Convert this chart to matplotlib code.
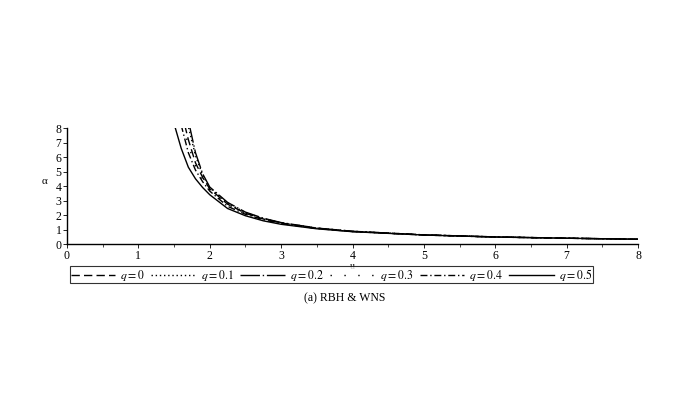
import numpy as np
import matplotlib.pyplot as plt

plt.rcParams['font.family'] = ['Liberation Serif', 'DejaVu Serif']
plt.rcParams['mathtext.fontset'] = 'stix'

# values
u_tail = [2.0, 2.25, 2.5, 2.75, 3.0, 3.5, 4.0, 5.0, 6.0, 7.0, 8.0]

u_q0 = [1.65, 1.7, 1.8, 1.9] + u_tail
a_q0 = [8.2, 7.2, 5.6, 4.6, 3.8, 2.75, 2.12, 1.73, 1.45, 1.09, 0.87, 0.63, 0.49, 0.40, 0.33]

u_q1 = [1.69, 1.7, 1.8, 1.9] + u_tail
a_q1 = [8.3, 8.1, 6.1, 4.75, 3.88, 2.82, 2.17, 1.76, 1.47, 1.1, 0.88, 0.63, 0.49, 0.40, 0.33]

u_q2 = [1.71, 1.8, 1.9] + u_tail
a_q2 = [8.3, 6.3, 4.85, 3.93, 2.87, 2.2, 1.78, 1.48, 1.1, 0.88, 0.63, 0.49, 0.40, 0.33]

u_q3 = [1.63, 1.7, 1.8, 1.9] + u_tail
a_q3 = [8.2, 6.8, 5.4, 4.45, 3.72, 2.68, 2.09, 1.7, 1.43, 1.08, 0.86, 0.62, 0.48, 0.40, 0.33]

u_q4 = [1.6, 1.7, 1.8, 1.9] + u_tail
a_q4 = [8.2, 6.3, 5.1, 4.3, 3.65, 2.6, 2.05, 1.68, 1.41, 1.07, 0.86, 0.62, 0.48, 0.40, 0.33]

u_q5 = [1.5, 1.6, 1.7, 1.8, 1.9] + u_tail
a_q5 = [8.3, 6.6, 5.3, 4.5, 3.9, 3.4, 2.45, 1.95, 1.6, 1.36, 1.05, 0.85, 0.62, 0.48, 0.40, 0.33]

labels = ['$q = 0$', '$q = 0.1$', '$q = 0.2$', '$q = 0.3$', '$q = 0.4$', '$q = 0.5$']
styles = [(0, (6, 3)), (0, (1, 2)), (0, (14, 2, 1, 2)), (0, (1, 9)), (0, (5, 2, 1, 2)), '-']

fig = plt.figure(figsize=(6.92, 4.15), dpi=100)
ax = fig.add_axes([0.0968, 0.412, 0.8252, 0.2795])

series = [(u_q0, a_q0), (u_q1, a_q1), (u_q2, a_q2), (u_q3, a_q3), (u_q4, a_q4), (u_q5, a_q5)]
for (u, a), lab, ls in zip(series, labels, styles):
    ax.plot(u, a, color='black', linestyle=ls, linewidth=1.0, label=lab)

ax.set_xlim(0, 8)
ax.set_ylim(0, 8)
ax.set_xticks(range(0, 9))
ax.set_yticks(range(0, 9))
ax.set_xticks(np.arange(0.5, 8, 1.0), minor=True)
ax.tick_params(labelsize=8.5, length=3, width=0.6, pad=1)
ax.tick_params(which='minor', length=2, width=0.5)
ax.spines['top'].set_visible(False)
ax.spines['right'].set_visible(False)
ax.spines['left'].set_linewidth(1.0)
ax.spines['bottom'].set_linewidth(1.0)
ax.set_xlabel('u', fontsize=7, labelpad=0)
ax.set_ylabel('α', fontsize=8, rotation=0, labelpad=8)

leg = ax.legend(loc='upper center', bbox_to_anchor=(0.463, -0.19), ncol=6, fontsize=8.5,
                frameon=True, fancybox=False, edgecolor='black', handlelength=3.8,
                columnspacing=0.55, handletextpad=0.4, borderpad=0.05, borderaxespad=0)
leg.get_frame().set_linewidth(0.8)

fig.text(0.4986, 1 - 298 / 415, '(a) RBH & WNS', ha='center', va='center', fontsize=8.5)

fig.savefig('out.png', dpi=100)
